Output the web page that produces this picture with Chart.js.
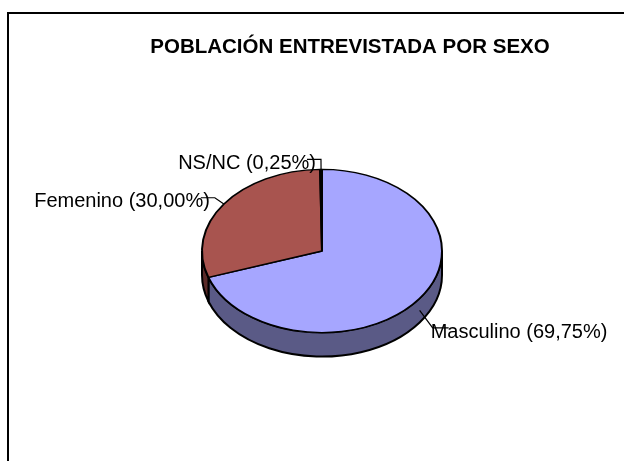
<!DOCTYPE html>
<html>
<head>
<meta charset="utf-8">
<script src="https://cdn.jsdelivr.net/npm/chart.js@4/dist/chart.umd.min.js"></script>
<style>
  html, body { margin: 0; padding: 0; background: #fff; overflow: hidden; }
</style>
</head>
<body>
<canvas id="sexChart" width="624" height="461"></canvas>
<script>
// Data
const categories = ['Masculino', 'Femenino', 'NS/NC'];
const percentages = [69.75, 30.00, 0.25];
const labelTexts = ['Masculino (69,75%)', 'Femenino (30,00%)', 'NS/NC (0,25%)'];
const titleText = 'POBLACIÓN ENTREVISTADA POR SEXO';

// Styles
const topColors = ['#a6a6ff', '#a8544f', '#ffffcc'];
const sideColors = ['#5a5a86', '#5a2a28', '#80806a'];
const leaderLen = [20, 11, 10];
const tilt = 0.68;     // vertical squash of the pie
const depth = 24;      // thickness of the pie, px
const fontFamily = '"Liberation Sans", Arial, sans-serif';

const pie3d = {
  id: 'pie3d',
  beforeDraw(chart) {
    const ctx = chart.ctx;
    ctx.save();
    ctx.fillStyle = '#fff';
    ctx.fillRect(0, 0, chart.width, chart.height);
    // chart frame, runs off the right and bottom edges
    ctx.strokeStyle = '#000';
    ctx.lineWidth = 2;
    ctx.strokeRect(8, 13, 720, 520);
    // title
    ctx.fillStyle = '#000';
    ctx.font = 'bold 20.5px ' + fontFamily;
    ctx.textAlign = 'center';
    ctx.textBaseline = 'middle';
    ctx.fillText(titleText, 350, 47);
    ctx.restore();
  },
  beforeDatasetsDraw(chart) {
    const ctx = chart.ctx;
    const arcs = chart.getDatasetMeta(0).data;
    const cx = arcs[0].x, cy = arcs[0].y, r = arcs[0].outerRadius;
    // side walls for the front half (canvas angles 0..PI)
    ctx.save();
    ctx.lineWidth = 2;
    ctx.strokeStyle = '#000';
    arcs.forEach((arc, i) => {
      for (let k = -1; k <= 1; k++) {
        const lo = Math.max(arc.startAngle, 2 * Math.PI * k);
        const hi = Math.min(arc.endAngle, 2 * Math.PI * k + Math.PI);
        if (hi <= lo) continue;
        ctx.beginPath();
        ctx.ellipse(cx, cy, r, r * tilt, 0, lo, hi);
        ctx.ellipse(cx, cy + depth, r, r * tilt, 0, hi, lo, true);
        ctx.closePath();
        ctx.fillStyle = sideColors[i];
        ctx.fill();
        ctx.stroke();
      }
    });
    ctx.restore();
    // squash the top face drawn by Chart.js
    ctx.save();
    ctx.translate(cx, cy);
    ctx.scale(1, tilt);
    ctx.translate(-cx, -cy);
  },
  afterDatasetsDraw(chart) {
    const ctx = chart.ctx;
    ctx.restore();
    const arcs = chart.getDatasetMeta(0).data;
    ctx.save();
    ctx.strokeStyle = '#000';
    ctx.lineWidth = 1.2;
    ctx.fillStyle = '#000';
    ctx.font = '20px ' + fontFamily;
    ctx.textBaseline = 'middle';
    arcs.forEach((arc, i) => {
      const mid = (arc.startAngle + arc.endAngle) / 2;
      const ux = Math.cos(mid), uy = Math.sin(mid);
      const front = uy > 0;
      const ax = arc.x + arc.outerRadius * ux;
      const ay = arc.y + arc.outerRadius * tilt * uy + (front ? depth * 0.5 : 0);
      const ex = ax + ux * leaderLen[i] * (front ? 0.8 : 1);
      const ey = ay + uy * leaderLen[i] * (front ? 1.5 : 1);
      const right = ux > 0;
      const hx = ex + (right ? 16 : -14);
      ctx.beginPath();
      ctx.moveTo(ax, ay);
      ctx.lineTo(ex, ey);
      ctx.lineTo(hx, ey);
      ctx.stroke();
      ctx.textAlign = right ? 'left' : 'right';
      ctx.fillText(labelTexts[i], right ? ex - 2 : ex - 5, ey + (front ? 5 : 4));
    });
    ctx.restore();
  }
};

new Chart(document.getElementById('sexChart'), {
  type: 'pie',
  data: {
    labels: categories,
    datasets: [{
      data: percentages,
      backgroundColor: topColors,
      borderColor: '#000',
      borderWidth: 2
    }]
  },
  options: {
    responsive: false,
    animation: false,
    events: [],
    layout: { padding: { left: 201, right: 181, top: 100, bottom: 59 } },
    plugins: {
      legend: { display: false },
      title: { display: false },
      tooltip: { enabled: false }
    }
  },
  plugins: [pie3d]
});
</script>
</body>
</html>
